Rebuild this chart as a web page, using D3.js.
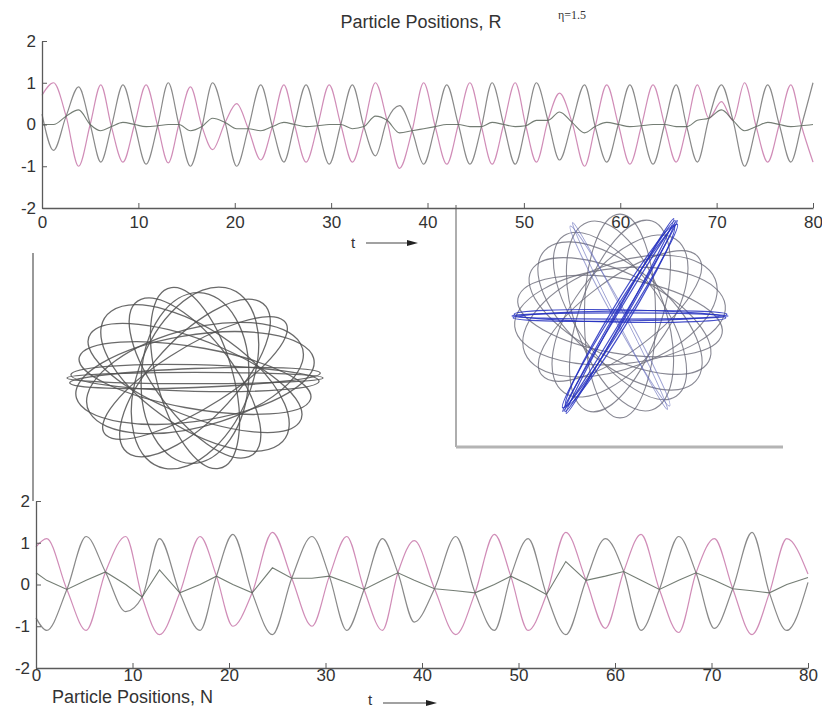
<!DOCTYPE html>
<html>
<head>
<meta charset="utf-8">
<script src="https://cdn.jsdelivr.net/npm/d3@7"></script>
<style>
  body { margin: 0; background: #fff; }
  text { font-family: "Liberation Sans", Arial, sans-serif; fill: #333; }
</style>
</head>
<body>
<svg id="fig" width="822" height="708"></svg>
<script>
// ---- axis ticks ----
const timeTicks = [0, 10, 20, 30, 40, 50, 60, 70, 80];
const posTicks = [-2, -1, 0, 1, 2];

// ---- R panel: turning points of the three particles ----
const rT    = [0, 1.2, 3.8, 6.1, 8.4, 10.8, 13.1, 15.4, 17.7, 20.2, 22.7, 25.1, 27.4, 29.8, 32.2, 34.6, 37.1, 39.6, 42.0, 44.4, 46.7, 49.1, 51.3, 53.7, 56.3, 58.6, 61.0, 63.4, 65.8, 68.0, 70.5, 72.9, 75.3, 77.7, 80.0];
const rGray = [0.25, -0.62, 0.9, -0.9, 0.95, -0.95, 1.0, -1.0, 1.0, -1.0, 0.95, -0.9, 0.95, -0.95, 0.95, -0.75, 0.45, -0.95, 0.95, -0.95, 1.0, -0.95, 1.0, -0.85, 0.95, -0.9, 0.95, -0.95, 0.95, -0.9, 0.95, -1.0, 0.95, -0.9, 1.0];
const rPink = [0.7, 1.0, -1.0, 0.95, -0.9, 0.95, -0.92, 0.9, -0.6, 0.5, -0.85, 0.95, -0.9, 0.95, -0.9, 1.0, -1.05, 1.0, -0.95, 1.0, -0.95, 1.0, -0.9, 0.75, -1.0, 0.95, -0.95, 0.95, -0.9, 0.95, 0.55, 1.0, -0.9, 0.95, -0.9];
const rMid  = [0.0, 0.0, 0.35, -0.15, 0.05, -0.05, 0.0, -0.15, 0.15, -0.1, -0.15, 0.05, -0.05, 0.0, -0.1, 0.2, -0.2, -0.1, 0.0, -0.05, 0.05, -0.05, 0.1, 0.3, -0.2, 0.05, -0.05, 0.0, -0.05, 0.1, 0.35, -0.15, 0.05, -0.05, 0.0];
// crossings where the particle paths meet
const rCrossT = [2.5, 5.0, 7.2, 9.6, 12.0, 14.2, 16.6, 19.0, 21.4, 23.9, 26.2, 28.6, 31.0, 33.4, 35.8, 38.4, 40.8, 43.2, 45.6, 47.9, 50.2, 52.5, 55.0, 57.4, 59.8, 62.2, 64.6, 66.9, 69.2, 71.7, 74.1, 76.5, 78.8];
const rCrossV = [0.2, 0.0, -0.05, 0.0, -0.03, 0.0, -0.05, 0.05, -0.1, -0.05, 0.0, -0.03, 0.0, -0.05, 0.1, -0.15, -0.05, 0.0, -0.05, 0.0, -0.03, 0.1, 0.05, -0.05, 0.0, -0.03, 0.0, -0.05, 0.15, 0.1, -0.05, 0.0, -0.03];

// ---- N panel ----
const nT    = [0, 1.1, 5.2, 9.3, 12.8, 17.0, 20.4, 24.5, 28.6, 32.2, 35.9, 39.2, 43.5, 47.5, 51.0, 54.9, 59.0, 62.7, 66.6, 70.3, 74.2, 77.8, 80];
const nGray = [-0.8, -1.1, 1.15, -0.65, 1.1, -1.1, 1.2, -1.2, 1.15, -1.1, 1.1, -0.9, 1.15, -1.1, 1.1, -1.2, 1.1, -1.1, 1.15, -1.05, 1.25, -1.1, 0.05];
const nPink = [0.9, 1.1, -1.1, 1.15, -1.2, 1.15, -1.0, 1.25, -1.0, 1.15, -1.1, 1.05, -1.2, 1.2, -1.1, 1.25, -1.05, 1.2, -1.15, 1.1, -1.2, 1.1, 0.25];
const nMid  = [0.28, 0.1, 0.1, 0.0, 0.35, 0.0, 0.0, 0.4, 0.15, 0.05, 0.1, 0.1, -0.15, 0.0, 0.0, 0.55, 0.2, 0.1, 0.1, 0.1, -0.15, 0.0, 0.17];
const nCrossT = [3.2, 7.2, 11.0, 14.9, 18.7, 22.4, 26.5, 30.4, 34.0, 37.5, 41.3, 45.5, 49.2, 52.9, 57.0, 60.9, 64.6, 68.4, 72.2, 76.0];
const nCrossV = [-0.12, 0.3, -0.3, -0.2, 0.2, -0.2, 0.15, 0.2, -0.12, 0.28, -0.1, -0.2, 0.2, -0.24, 0.1, 0.31, -0.12, 0.28, -0.1, -0.2];

// ---- orbit rosettes: orientation (deg), semi-major, semi-minor ----
const leftAngle = [0, 3, 178, 13, 166, 24, 150, 41, 133, 58, 117, 76, 101, 88];
const leftMajor = [1.0, 0.98, 0.97, 0.95, 0.93, 0.9, 0.94, 0.92, 0.96, 0.95, 0.93, 0.98, 0.97, 0.9];
const leftMinor = [0.06, 0.1, 0.14, 0.45, 0.32, 0.5, 0.38, 0.3, 0.46, 0.36, 0.33, 0.45, 0.3, 0.42];

const rightGrayAngle = [6, 170, 22, 152, 38, 138, 72, 108, 90, 124, 55];
const rightGrayMajor = [0.98, 0.96, 0.95, 0.93, 0.92, 0.94, 0.96, 0.95, 0.98, 0.93, 0.9];
const rightGrayMinor = [0.46, 0.36, 0.5, 0.4, 0.34, 0.45, 0.38, 0.42, 0.33, 0.4, 0.44];

const rightBlueAngle = [0, 1, 179, 60, 61, 59, 62, 60];
const rightBlueMajor = [1.0, 0.99, 0.98, 1.06, 1.05, 1.03, 1.06, 1.0];
const rightBlueMinor = [0.03, 0.05, 0.06, 0.03, 0.05, 0.07, 0.04, 0.09];
const rightFaintAngle = [116, 118];
const rightFaintMajor = [1.0, 0.98];
const rightFaintMinor = [0.04, 0.06];

const svg = d3.select("#fig");
const COL = { gray: "#7c7c7c", pink: "#c878aa", mid: "#5c665c", axis: "#5a5a5a" };

// ---------- orbits ----------
function rosette(xs, ys, angles, majors, minors, color, width, opacity) {
  const kx = xs(1) - xs(0), ky = ys(0) - ys(1);
  svg.append("g")
    .selectAll("ellipse")
    .data(angles.map((a, i) => ({ a, rx: majors[i], ry: minors[i] })))
    .join("ellipse")
    .attr("cx", 0).attr("cy", 0)
    .attr("rx", d => d.rx).attr("ry", d => d.ry)
    .attr("transform", d => `translate(${xs(0)},${ys(0)}) scale(${kx},${ky}) rotate(${-d.a})`)
    .attr("fill", "none")
    .attr("stroke", color)
    .attr("stroke-width", width)
    .attr("stroke-opacity", opacity)
    .attr("vector-effect", "non-scaling-stroke");
}

const lx = d3.scaleLinear([-1, 1], [67, 323]);
const ly = d3.scaleLinear([-1, 1], [473, 283]);
rosette(lx, ly, leftAngle, leftMajor, leftMinor, "#505050", 1.3, 0.85);

const rx = d3.scaleLinear([-1, 1], [512, 728]);
const ry = d3.scaleLinear([-1, 1], [420, 212]);
rosette(rx, ry, rightGrayAngle, rightGrayMajor, rightGrayMinor, "#6a6a78", 1.1, 0.8);
rosette(rx, ry, rightFaintAngle, rightFaintMajor, rightFaintMinor, "#6068b8", 1.0, 0.6);
rosette(rx, ry, rightBlueAngle, rightBlueMajor, rightBlueMinor, "#2530c0", 1.2, 0.85);

// frame lines around the orbits
svg.append("line").attr("x1", 456).attr("x2", 456).attr("y1", 205).attr("y2", 447)
  .attr("stroke", "#9a9a9a").attr("stroke-width", 1.6);
svg.append("line").attr("x1", 456).attr("x2", 783).attr("y1", 447).attr("y2", 447)
  .attr("stroke", "#b4b4b4").attr("stroke-width", 3);
svg.append("line").attr("x1", 33).attr("x2", 33).attr("y1", 253).attr("y2", 501)
  .attr("stroke", "#777").attr("stroke-width", 1.5);

// ---------- time-series panels ----------
function panel(opt) {
  const x = d3.scaleLinear([0, 80], opt.xr);
  const y = d3.scaleLinear([-2, 2], opt.yr);
  const g = svg.append("g");

  const merge = (vals) => opt.t.map((t, i) => [t, vals[i]])
    .concat(opt.crossT.map((t, i) => [t, opt.crossV[i]]))
    .sort((a, b) => a[0] - b[0]);

  const smooth = d3.line().x(d => x(d[0])).y(d => y(d[1])).curve(d3.curveMonotoneX);
  const midLine = d3.line().x(d => x(d[0])).y(d => y(d[1])).curve(opt.midCurve);

  g.append("path").attr("d", smooth(merge(opt.pink)))
    .attr("fill", "none").attr("stroke", COL.pink).attr("stroke-width", 1.2).attr("stroke-opacity", 0.85);
  g.append("path").attr("d", smooth(merge(opt.gray)))
    .attr("fill", "none").attr("stroke", COL.gray).attr("stroke-width", 1.2).attr("stroke-opacity", 0.9);
  g.append("path").attr("d", midLine(merge(opt.mid)))
    .attr("fill", "none").attr("stroke", COL.mid).attr("stroke-width", 1.1).attr("stroke-opacity", 0.85);

  const xa = g.append("g").attr("transform", `translate(0,${y(-2)})`)
    .call(d3.axisBottom(x).tickValues(timeTicks).tickSizeInner(-5).tickSizeOuter(0)
      .tickPadding(opt.xPad).tickFormat(d => String(d)));
  const ya = g.append("g").attr("transform", `translate(${x(0)},0)`)
    .call(d3.axisLeft(y).tickValues(posTicks).tickSizeInner(-5).tickSizeOuter(0)
      .tickPadding(6).tickFormat(d => String(d)));
  [xa, ya].forEach(a => {
    a.select(".domain").attr("stroke", COL.axis).attr("stroke-width", 1.3);
    a.selectAll(".tick line").attr("stroke", COL.axis);
    a.selectAll("text").style("font-size", "17px").style("font-family", "'Liberation Sans', Arial, sans-serif").attr("fill", "#333");
  });
  return { x, y };
}

panel({ xr: [42, 813], yr: [208, 41], t: rT, gray: rGray, pink: rPink, mid: rMid,
        crossT: rCrossT, crossV: rCrossV, midCurve: d3.curveMonotoneX, xPad: 8 });
panel({ xr: [36, 808], yr: [668, 501], t: nT, gray: nGray, pink: nPink, mid: nMid,
        crossT: nCrossT, crossV: nCrossV, midCurve: d3.curveLinear, xPad: 1 });

// ---------- labels ----------
svg.append("text").attr("x", 421).attr("y", 28).attr("text-anchor", "middle")
  .style("font-size", "18px").text("Particle Positions, R");
svg.append("text").attr("x", 558).attr("y", 19)
  .style("font-family", "'Liberation Serif', 'Times New Roman', serif").style("font-size", "12px")
  .text("η=1.5");
svg.append("text").attr("x", 52).attr("y", 703)
  .style("font-size", "18px").text("Particle Positions, N");

function timeArrow(tx, x1, x2, yy, ty) {
  svg.append("text").attr("x", tx).attr("y", ty).style("font-size", "15px").text("t");
  svg.append("line").attr("x1", x1).attr("x2", x2 - 8).attr("y1", yy).attr("y2", yy)
    .attr("stroke", "#444").attr("stroke-width", 1.2);
  svg.append("path").attr("d", `M${x2 - 11},${yy - 3}L${x2},${yy}L${x2 - 11},${yy + 3}Z`).attr("fill", "#222");
}
timeArrow(351, 366, 418, 243, 248);
timeArrow(368, 383, 437, 703, 705);
</script>
</body>
</html>
